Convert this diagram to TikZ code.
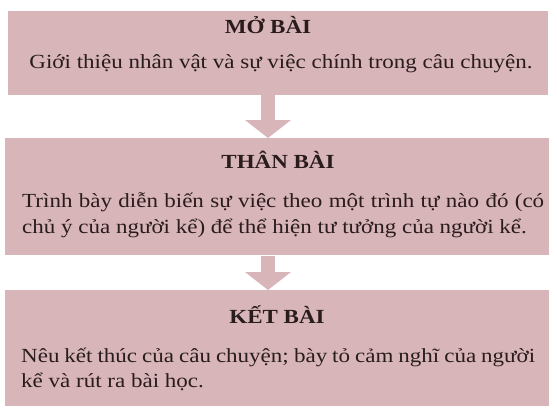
\documentclass[tikz,border=0pt]{standalone}
\usepackage{fontspec}
\setmainfont[FakeStretch=1.15]{Liberation Serif}
\usetikzlibrary{arrows.meta}
\definecolor{boxpink}{HTML}{D8B5B9}
\definecolor{ink}{HTML}{2A1C1C}
\tikzset{
  panel/.style={fill=boxpink, draw=none, inner sep=0pt, anchor=north west},
  title/.style={font=\fontsize{20}{22}\selectfont\bfseries, text=ink, anchor=base, inner sep=0pt},
  body/.style={font=\fontsize{20}{22}\selectfont, text=ink, anchor=base west, inner sep=0pt},
  bodyc/.style={font=\fontsize{20}{22}\selectfont, text=ink, anchor=base, inner sep=0pt},
  flow/.style={boxpink, line width=14pt, -{Triangle[width=45pt,length=18pt]}}
}
\begin{document}
\begin{tikzpicture}[x=1pt,y=-1pt]
\useasboundingbox (0,0) rectangle (557,416);
\node[panel, minimum width=540pt, minimum height=84pt] (b1) at (8,11) {};
\node[panel, minimum width=544pt, minimum height=117pt] (b2) at (5,138) {};
\node[panel, minimum width=544pt, minimum height=116pt] (b3) at (5,290) {};
\coordinate (a1s) at (268,95);
\coordinate (a1e) at (268,138);
\coordinate (a2s) at (268,256);
\coordinate (a2e) at (268,290);
\draw[flow] (a1s) -- (a1e);
\draw[flow] (a2s) -- (a2e);
\node[title] (t1) at (268,33) {MỞ BÀI};
\node[bodyc] (l1) at (281,68) {Giới thiệu nhân vật và sự việc chính trong câu chuyện.};
\node[title] (t2) at (278,168) {THÂN BÀI};
\node[body] (l2a) at (22,207) {\makebox[522pt][s]{Trình bày diễn biến sự việc theo một trình tự nào đó (có}};
\node[body] (l2b) at (22,233) {chủ ý của người kể) để thể hiện tư tưởng của người kể.};
\node[title] (t3) at (277,323) {KẾT BÀI};
\node[body] (l3a) at (21,362) {\makebox[514pt][s]{Nêu kết thúc của câu chuyện; bày tỏ cảm nghĩ của người}};
\node[body] (l3b) at (21,387) {kể và rút ra bài học.};
\end{tikzpicture}
\end{document}
